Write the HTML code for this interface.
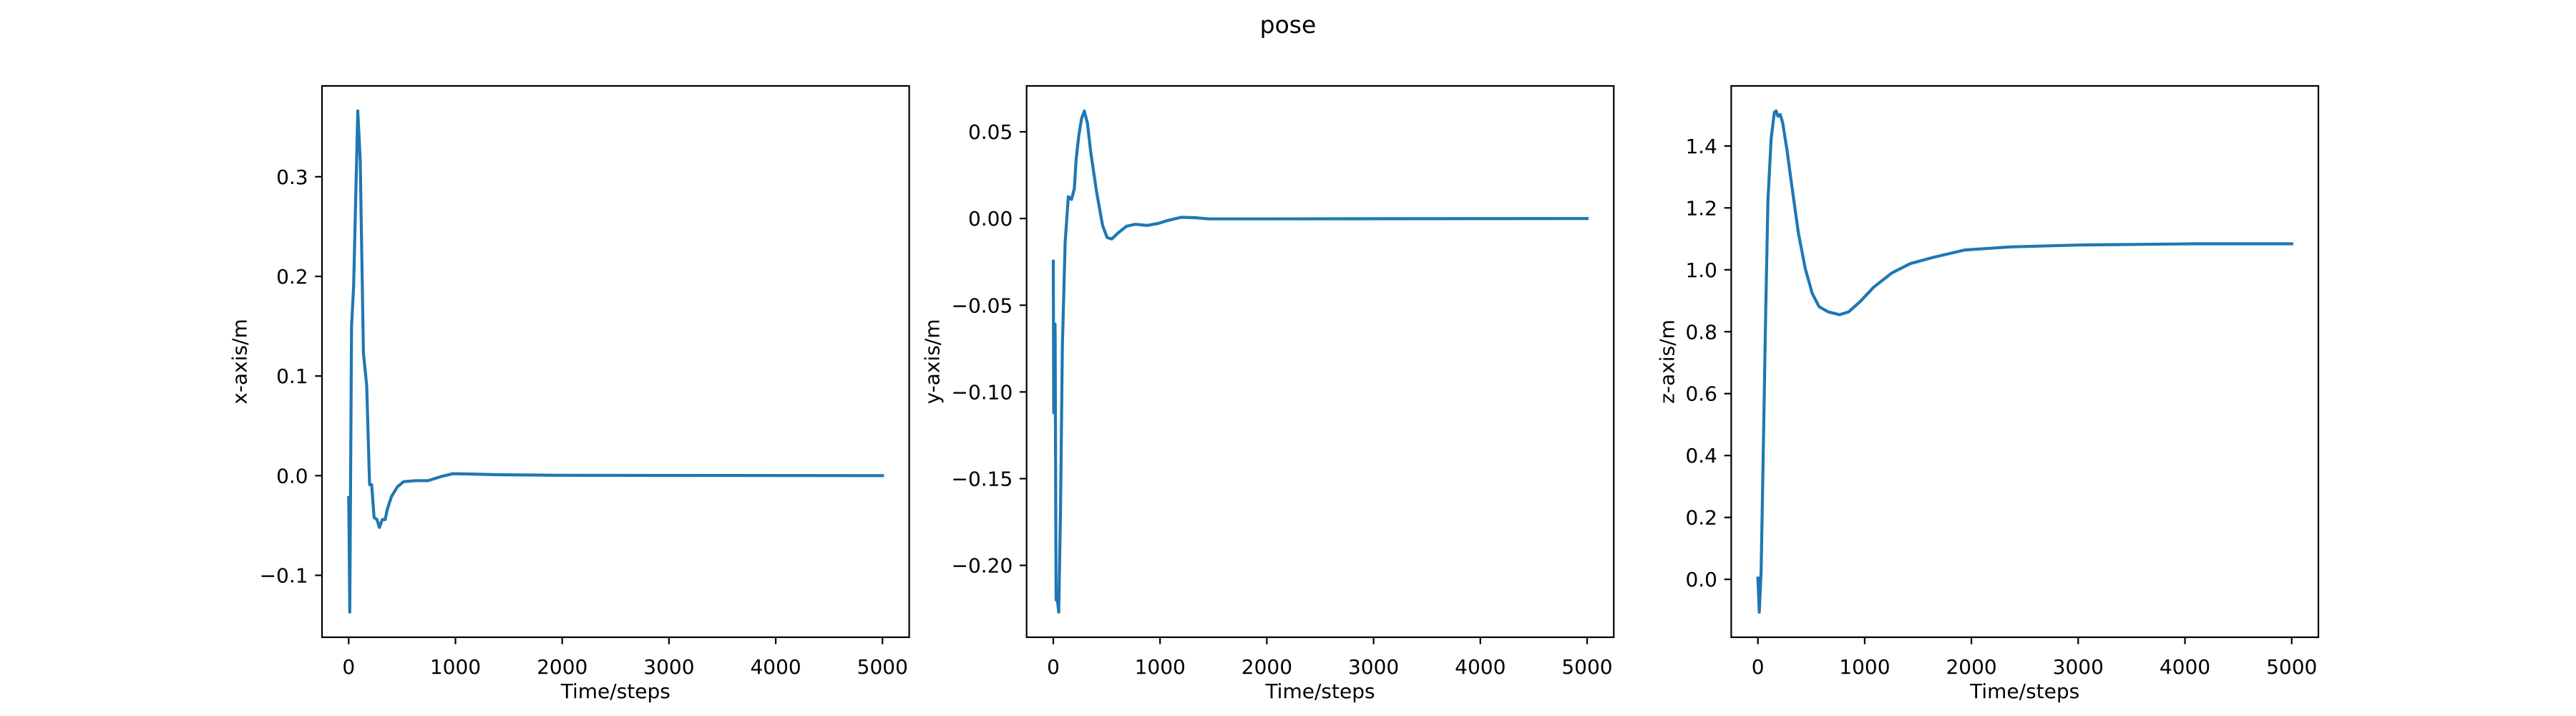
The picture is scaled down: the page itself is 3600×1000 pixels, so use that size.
<!DOCTYPE html>
<html><head><meta charset="utf-8"><style>
html,body{margin:0;padding:0;background:#fff}
svg{display:block}
text{font-family:"DejaVu Sans","Liberation Sans",sans-serif;fill:#000}
</style></head><body>
<svg id="fig" width="3600" height="1000" viewBox="0 0 3600 1000" xmlns="http://www.w3.org/2000/svg">
<rect width="3600" height="1000" fill="#fff"/>
<text x="1800" y="46" font-size="33" text-anchor="middle">pose</text>
</svg>
<script>
const xTicks = [0,1000,2000,3000,4000,5000];
const xT = [0,4,10,27,46,85,108,138,169,196,215,238,265,288,315,342,361,400,457,515,630,745,861,976,1130,1399,1975,5000];
const xV = [-0.022,-0.06,-0.137,0.15,0.19,0.366,0.317,0.123,0.09,-0.009,-0.009,-0.042,-0.044,-0.052,-0.044,-0.044,-0.034,-0.021,-0.011,-0.006,-0.005,-0.005,-0.001,0.002,0.0017,0.001,0.0004,0];
const xYTicks = [-0.1,0,0.1,0.2,0.3];
const xYLabels = ["−0.1","0.0","0.1","0.2","0.3"];
const yT = [0,4,17,26,38,51,68,85,111,141,171,197,214,239,265,290,320,350,406,462,504,547,607,684,769,876,983,1068,1197,1325,1453,1838,5000];
const yV = [-0.0246,-0.112,-0.061,-0.22,-0.22,-0.227,-0.168,-0.073,-0.0135,0.0126,0.011,0.0173,0.034,0.048,0.0576,0.062,0.055,0.0386,0.015,-0.004,-0.011,-0.0118,-0.0083,-0.0045,-0.0033,-0.004,-0.0028,-0.0012,0.0007,0.0005,-0.0002,-0.0002,0];
const yYTicks = [-0.2,-0.15,-0.1,-0.05,0,0.05];
const yYLabels = ["−0.20","−0.15","−0.10","−0.05","0.00","0.05"];
const zT = [0,13,30,51,73,94,124,154,171,188,209,231,274,316,380,444,509,573,658,765,850,957,1085,1256,1427,1641,1940,2368,3009,4077,5000];
const zV = [0.004,-0.106,0.027,0.425,0.864,1.223,1.423,1.509,1.513,1.496,1.502,1.476,1.383,1.276,1.117,1.004,0.924,0.881,0.864,0.855,0.864,0.897,0.944,0.99,1.02,1.04,1.064,1.074,1.08,1.084,1.084];
const zYTicks = [0,0.2,0.4,0.6,0.8,1.0,1.2,1.4];
const zYLabels = ["0.0","0.2","0.4","0.6","0.8","1.0","1.2","1.4"];

const NS = "http://www.w3.org/2000/svg";
const svg = document.getElementById('fig');
function mk(tag, attrs, parent){const e=document.createElementNS(NS,tag);for(const k in attrs)e.setAttribute(k,attrs[k]);(parent||svg).appendChild(e);return e;}

function panel(key, left, T, V, yt, yl, ylabel, ylabelX){
  const right = left + 820.6, top = 120, bottom = 890;
  const g = mk('g', {});
  
  
  const xmin = -250, xmax = 5250;
  let vmin = Math.min(...V), vmax = Math.max(...V);
  const m = (vmax - vmin) * 0.05; vmin -= m; vmax += m;
  const sx = t => left + (t - xmin) / (xmax - xmin) * (right - left);
  const sy = v => bottom - (v - vmin) / (vmax - vmin) * (bottom - top);
  const d = T.map((t,i)=>(i?'L':'M')+sx(t).toFixed(1)+','+sy(V[i]).toFixed(1)).join(' ');
  const line = mk('path', {d:d, fill:'none', stroke:'#1f77b4', 'stroke-width':4.2, 'stroke-linejoin':'round', 'stroke-linecap':'square'}, g);
  
  
  const frame = mk('rect', {x:left, y:top, width:right-left, height:bottom-top, fill:'none', stroke:'#000', 'stroke-width':2.2}, g);
  
  
  xTicks.forEach(t=>{
    const x = sx(t);
    mk('line', {x1:x, x2:x, y1:bottom, y2:bottom+9.7, stroke:'#000', 'stroke-width':2.2}, g);
    const tx = mk('text', {x:x, y:941, 'font-size':28, 'text-anchor':'middle'}, g);
    tx.textContent = t;
    
    
  });
  yt.forEach((v,i)=>{
    const y = sy(v);
    mk('line', {x1:left-9.7, x2:left, y1:y, y2:y, stroke:'#000', 'stroke-width':2.2}, g);
    const tx = mk('text', {x:left-19.4, y:y+10, 'font-size':28, 'text-anchor':'end'}, g);
    tx.textContent = yl[i];
    
    
  });
  const xl = mk('text', {x:(left+right)/2, y:975, 'font-size':28, 'text-anchor':'middle'}, g);
  xl.textContent = 'Time/steps';
  
  
  const cy = (top+bottom)/2;
  const yl2 = mk('text', {x:ylabelX, y:cy, 'font-size':28, 'text-anchor':'middle', 'dominant-baseline':'central', transform:'rotate(-90 '+ylabelX+' '+cy+')'}, g);
  yl2.textContent = ylabel;
  
  
}
panel('x', 450, xT, xV, xYTicks, xYLabels, 'x-axis/m', 335);
panel('y', 1434.7, yT, yV, yYTicks, yYLabels, 'y-axis/m', 1303);
panel('z', 2419.4, zT, zV, zYTicks, zYLabels, 'z-axis/m', 2330);
</script>
</body></html>
